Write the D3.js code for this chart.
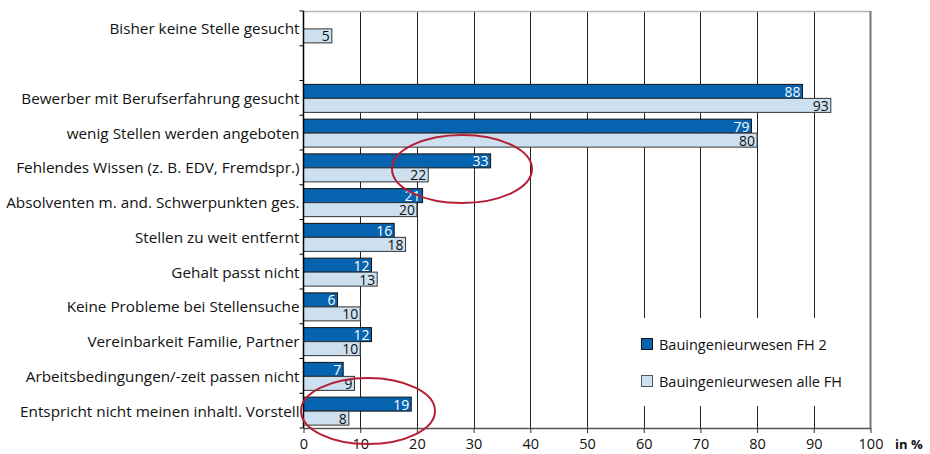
<!DOCTYPE html>
<html><head><meta charset="utf-8">
<script src="https://cdn.jsdelivr.net/npm/d3@7"></script>
<style>body{margin:0;background:#fff;} text{font-family:"Open Sans",Lato,sans-serif;}</style>
</head><body><svg id="c" width="930" height="454"></svg>
<script>
const categories = ["Bisher keine Stelle gesucht", "", "Bewerber mit Berufserfahrung gesucht", "wenig Stellen werden angeboten", "Fehlendes Wissen (z. B. EDV, Fremdspr.)", "Absolventen m. and. Schwerpunkten ges.", "Stellen zu weit entfernt", "Gehalt passt nicht", "Keine Probleme bei Stellensuche", "Vereinbarkeit Familie, Partner", "Arbeitsbedingungen/-zeit passen nicht", "Entspricht nicht meinen inhaltl. Vorstell"];
const fh2 = [null, null, 88, 79, 33, 21, 16, 12, 6, 12, 7, 19];
const alleFH = [5, null, 93, 80, 22, 20, 18, 13, 10, 10, 9, 8];
const seriesNames = ["Bauingenieurwesen FH 2", "Bauingenieurwesen alle FH"];
const xTicks = [0,10,20,30,40,50,60,70,80,90,100];
const colors = ["#0563b0", "#cde0ef"];

const svg = d3.select("#c");
const m = {l:303.5, r:870.5, t:11, b:428};
const x = d3.scaleLinear().domain([0,100]).range([m.l, m.r]);
const y = d3.scaleBand().domain(d3.range(categories.length)).range([m.t, m.b]).padding(0);
const bw = y.bandwidth();
const barH = 14;
const off = (bw - 2*barH)/2 + 0.5;

// gridlines
svg.append("g").selectAll("line").data(xTicks.filter(d=>d>0 && d<100)).join("line")
  .attr("x1", d=>Math.round(x(d))+0.5).attr("x2", d=>Math.round(x(d))+0.5)
  .attr("y1", m.t).attr("y2", m.b).attr("stroke", "#222").attr("stroke-width", 1);
// top border
svg.append("line").attr("x1", m.l).attr("x2", m.r).attr("y1", m.t+0.5).attr("y2", m.t+0.5)
  .attr("stroke", "#b4b4b4").attr("stroke-width", 1.5);
// right border
svg.append("line").attr("x1", m.r).attr("x2", m.r).attr("y1", m.t).attr("y2", m.b)
  .attr("stroke", "#777").attr("stroke-width", 2);

// legend background
const lg = svg.append("g");
lg.append("rect").attr("x", 630).attr("y", 318).attr("width", 232).attr("height", 88).attr("fill", "#fff");

// bars
const series = [fh2, alleFH];
series.forEach((vals, si) => {
  const g = svg.append("g");
  const data = vals.map((v,i)=>({v,i})).filter(d=>d.v!=null);
  g.selectAll("rect").data(data).join("rect")
    .attr("x", x(0)).attr("y", d=>y(d.i)+off+si*barH)
    .attr("width", d=>x(d.v)-x(0)).attr("height", barH)
    .attr("fill", colors[si]).attr("stroke", si===0?"#111":"#333").attr("stroke-width", 1);
  g.selectAll("text").data(data).join("text")
    .attr("x", d=>x(d.v)-2).attr("y", d=>y(d.i)+off+si*barH+barH/2+5.5)
    .attr("text-anchor", "end").attr("font-size", 14)
    .attr("fill", si===0?"#fff":"#111").text(d=>d.v);
});

// left axis
svg.append("line").attr("x1", m.l).attr("x2", m.l).attr("y1", m.t).attr("y2", m.b).attr("stroke", "#000").attr("stroke-width", 1.5);
svg.append("g").selectAll("line").data(d3.range(categories.length+1)).join("line")
  .attr("x1", m.l-4).attr("x2", m.l).attr("y1", d=>m.t+d*bw).attr("y2", d=>m.t+d*bw).attr("stroke", "#000");
svg.append("g").selectAll("text").data(categories.map((c,i)=>({c,i}))).join("text")
  .attr("x", m.l-4).attr("y", d=>y(d.i)+bw/2+6).attr("text-anchor","end")
  .attr("font-size", 15.3).attr("fill","#111").text(d=>d.c);

// x axis
const xa = svg.append("g").attr("transform", `translate(0,${m.b})`)
  .call(d3.axisBottom(x).tickValues(xTicks).tickSize(5).tickSizeOuter(0).tickPadding(6));
xa.select(".domain").attr("stroke", "#555").attr("stroke-width", 1.5);
xa.selectAll(".tick line").attr("stroke", "#333");
xa.selectAll(".tick text").attr("font-size", 14.5).attr("fill", "#111").attr("font-family","'Open Sans',Lato,sans-serif");
svg.append("text").attr("x", 895).attr("y", 449).attr("font-size", 13).attr("font-weight","bold").attr("fill","#111").text("in %");

// legend
seriesNames.forEach((n, i) => {
  const ly = 345 + i*37;
  lg.append("rect").attr("x", 641.5).attr("y", ly-6.5).attr("width", 11).attr("height", 11)
    .attr("fill", colors[i]).attr("stroke", i===0?"#111":"#555");
  lg.append("text").attr("x", 659).attr("y", ly+5).attr("font-size", 14.5).attr("fill","#111").text(n);
});

// annotation ellipses
svg.append("ellipse").attr("cx", 462).attr("cy", 169).attr("rx", 70).attr("ry", 34)
  .attr("fill","none").attr("stroke","#b51f35").attr("stroke-width", 2);
svg.append("ellipse").attr("cx", 368).attr("cy", 411).attr("rx", 67).attr("ry", 33)
  .attr("fill","none").attr("stroke","#b51f35").attr("stroke-width", 2);
</script></body></html>
